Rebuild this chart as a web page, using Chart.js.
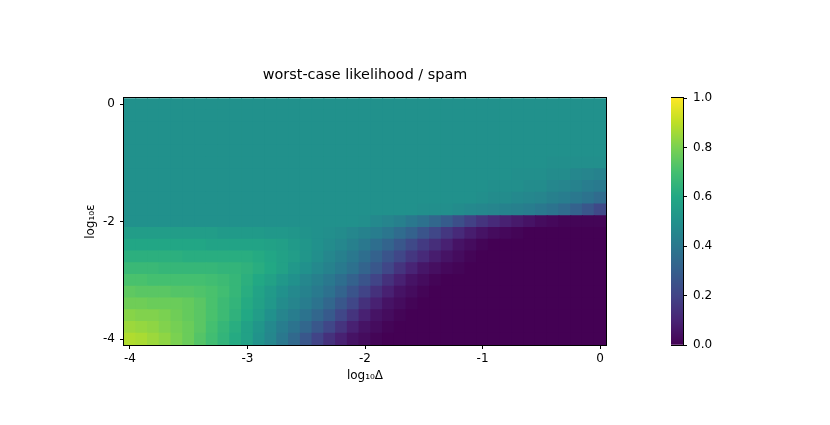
<!DOCTYPE html>
<html>
<head>
<meta charset="utf-8">
<script src="https://cdn.jsdelivr.net/npm/chart.js@4.4.1/dist/chart.umd.min.js"></script>
<style>
  html, body { margin: 0; padding: 0; background: #fff; }
  #wrap { position: relative; width: 830px; height: 425px; }
  #heat { position: absolute; left: 0; top: 0; }
  #cbar { position: absolute; left: 671px; top: 0; }
</style>
</head>
<body>
<div id="wrap">
  <canvas id="heat" width="830" height="425"></canvas>
  <canvas id="cbar" width="80" height="425"></canvas>
</div>
<script>
// log10 Delta (columns) and log10 eps (rows, top to bottom)
const logDelta = [-4.0,-3.9,-3.8,-3.7,-3.6,-3.5,-3.4,-3.3,-3.2,-3.1,-3.0,-2.9,-2.8,-2.7,-2.6,-2.5,-2.4,-2.3,-2.2,-2.1,
  -2.0,-1.9,-1.8,-1.7,-1.6,-1.5,-1.4,-1.3,-1.2,-1.1,-1.0,-0.9,-0.8,-0.7,-0.6,-0.5,-0.4,-0.3,-0.2,-0.1,0.0];
const logEps = [0.0,-0.2,-0.4,-0.6,-0.8,-1.0,-1.2,-1.4,-1.6,-1.8,-2.0,-2.2,-2.4,-2.6,-2.8,-3.0,-3.2,-3.4,-3.6,-3.8,-4.0];
const xTicks = [-4, -3, -2, -1, 0];
const yTicks = [-4, -2, 0];
const cbarTicks = [0, 0.2, 0.4, 0.6, 0.8, 1.0];

// worst-case likelihood, one row per logEps value
const likelihood = [
  [.5,.5,.5,.5,.5,.5,.5,.5,.5,.5, .5,.5,.5,.5,.5,.5,.5,.5,.5,.5, .5,.5,.5,.5,.5,.5,.5,.5,.5,.5, .5,.5,.5,.5,.5,.5,.5,.5,.5,.5, .5], // 0
  [.5,.5,.5,.5,.5,.5,.5,.5,.5,.5, .5,.5,.5,.5,.5,.5,.5,.5,.5,.5, .5,.5,.5,.5,.5,.5,.5,.5,.5,.5, .5,.5,.5,.5,.5,.5,.5,.5,.5,.5, .5], // -0.2
  [.5,.5,.5,.5,.5,.5,.5,.5,.5,.5, .5,.5,.5,.5,.5,.5,.5,.5,.5,.5, .5,.5,.5,.5,.5,.5,.5,.5,.5,.5, .5,.5,.5,.5,.5,.5,.5,.5,.5,.5, .5], // -0.4
  [.5,.5,.5,.5,.5,.5,.5,.5,.5,.5, .5,.5,.5,.5,.5,.5,.5,.5,.5,.5, .5,.5,.5,.5,.5,.5,.5,.5,.5,.5, .5,.5,.5,.5,.5,.5,.5,.5,.5,.5, .5], // -0.6
  [.5,.5,.5,.5,.5,.5,.5,.5,.5,.5, .5,.5,.5,.5,.5,.5,.5,.5,.5,.5, .5,.5,.5,.5,.5,.5,.5,.5,.5,.5, .5,.5,.5,.5,.5,.5,.5,.5,.5,.5, .5], // -0.8
  [.5,.5,.5,.5,.5,.5,.5,.5,.5,.5, .5,.5,.5,.5,.5,.5,.5,.5,.5,.5, .5,.5,.5,.5,.5,.5,.5,.5,.5,.5, .5,.5,.5,.5,.5,.5,.49,.49,.49,.49, .49], // -1.0
  [.5,.5,.5,.5,.5,.5,.5,.5,.5,.5, .5,.5,.5,.5,.5,.5,.5,.5,.5,.5, .5,.5,.5,.5,.5,.5,.5,.5,.5,.5, .5,.5,.5,.49,.49,.49,.48,.48,.46,.45, .44], // -1.2
  [.5,.5,.5,.5,.5,.5,.5,.5,.5,.5, .5,.5,.5,.5,.5,.5,.5,.5,.5,.5, .5,.5,.5,.5,.5,.5,.5,.5,.5,.5, .5,.49,.49,.49,.48,.48,.46,.45,.44,.42, .41], // -1.4
  [.5,.5,.5,.5,.5,.5,.5,.5,.5,.5, .5,.5,.5,.5,.5,.5,.5,.5,.5,.5, .5,.5,.5,.5,.5,.5,.5,.5,.5,.5, .49,.48,.48,.47,.46,.45,.43,.42,.40,.38, .35], // -1.6
  [.5,.5,.5,.5,.5,.5,.5,.5,.5,.5, .5,.5,.5,.5,.5,.5,.5,.5,.5,.5, .5,.5,.5,.5,.5,.49,.49,.49,.48,.47, .46,.45,.44,.43,.42,.40,.38,.35,.31,.27, .22], // -1.8
  [.5,.5,.5,.5,.5,.5,.5,.5,.5,.5, .5,.5,.5,.5,.5,.5,.5,.5,.5,.5, .49,.47,.45,.43,.40,.37,.33,.29,.24,.19, .15,.12,.09,.07,.05,.03,.02,.01,.01,.01, .01], // -2.0
  [.55,.55,.55,.55,.55,.55,.55,.55,.54,.54, .54,.54,.53,.53,.52,.51,.50,.49,.48,.46, .44,.42,.39,.35,.31,.26,.21,.16,.12,.08, .05,.03,.02,.01,0,0,0,0,0,0, 0], // -2.2
  [.59,.59,.59,.59,.59,.59,.59,.58,.58,.58, .58,.58,.57,.56,.54,.52,.50,.48,.46,.43, .40,.36,.32,.27,.22,.17,.13,.09,.05,.03, .01,0,0,0,0,0,0,0,0,0, 0], // -2.4
  [.63,.63,.63,.63,.63,.62,.62,.62,.62,.62, .62,.61,.59,.57,.55,.52,.49,.46,.43,.40, .36,.31,.26,.21,.16,.12,.08,.05,.03,.01, 0,0,0,0,0,0,0,0,0,0, 0], // -2.6
  [.67,.67,.67,.66,.66,.66,.66,.66,.65,.65, .64,.62,.60,.57,.53,.50,.47,.44,.41,.37, .32,.27,.21,.15,.10,.06,.04,.02,.01,0, 0,0,0,0,0,0,0,0,0,0, 0], // -2.8
  [.71,.71,.70,.70,.70,.70,.70,.69,.68,.66, .63,.60,.57,.53,.50,.46,.43,.40,.36,.31, .26,.20,.14,.09,.05,.03,.01,0,0,0, 0,0,0,0,0,0,0,0,0,0, 0], // -3.0
  [.75,.74,.74,.74,.73,.73,.72,.71,.69,.66, .62,.58,.54,.50,.47,.44,.41,.37,.32,.26, .20,.14,.09,.05,.03,.01,0,0,0,0, 0,0,0,0,0,0,0,0,0,0, 0], // -3.2
  [.78,.78,.77,.77,.77,.76,.74,.71,.68,.65, .61,.57,.53,.48,.45,.42,.38,.33,.27,.21, .14,.09,.05,.03,.01,0,0,0,0,0, 0,0,0,0,0,0,0,0,0,0, 0], // -3.4
  [.82,.81,.81,.80,.78,.76,.74,.71,.68,.64, .60,.55,.50,.45,.42,.38,.33,.28,.21,.15, .09,.05,.03,.01,0,0,0,0,0,0, 0,0,0,0,0,0,0,0,0,0, 0], // -3.6
  [.85,.84,.83,.81,.79,.77,.74,.70,.66,.62, .57,.52,.47,.42,.38,.33,.27,.21,.15,.09, .05,.03,.01,0,0,0,0,0,0,0, 0,0,0,0,0,0,0,0,0,0, 0], // -3.8
  [.88,.87,.85,.83,.80,.77,.73,.69,.65,.61, .57,.51,.46,.40,.34,.27,.20,.14,.09,.05, .03,.01,0,0,0,0,0,0,0,0, 0,0,0,0,0,0,0,0,0,0, 0]  // -4.0
];

// viridis colormap stops
const viridis = ['#440154','#482475','#414487','#355f8d','#2a788e','#21918c','#22a884','#44bf70','#7ad151','#bddf26','#fde725'];

function hexRgb(h) {
  return [parseInt(h.slice(1, 3), 16), parseInt(h.slice(3, 5), 16), parseInt(h.slice(5, 7), 16)];
}
function viridisColor(v) {
  const t = Math.max(0, Math.min(1, v)) * 10;
  const i = Math.min(9, Math.floor(t));
  const f = t - i;
  const a = hexRgb(viridis[i]), b = hexRgb(viridis[i + 1]);
  const c = a.map((x, k) => Math.round(x + (b[k] - x) * f));
  return 'rgb(' + c.join(',') + ')';
}

const cells = [];
const cellColors = [];
logEps.forEach((y, r) => {
  logDelta.forEach((x, c) => {
    cells.push({ x: x, y: [y - 0.1, y + 0.1] });
    cellColors.push(viridisColor(likelihood[r][c]));
  });
});

Chart.defaults.font.family = '"DejaVu Sans", sans-serif';
Chart.defaults.font.size = 12;
Chart.defaults.color = '#000';

// black box around the plot area
const frame = {
  id: 'frame',
  afterDatasetsDraw(chart) {
    const { ctx, chartArea: a } = chart;
    ctx.save();
    ctx.strokeStyle = '#000';
    ctx.lineWidth = 1;
    ctx.strokeRect(Math.round(a.left) - 0.5, Math.round(a.top) - 0.5,
      Math.round(a.right - a.left) + 1, Math.round(a.bottom - a.top) + 1);
    ctx.restore();
  }
};

new Chart(document.getElementById('heat'), {
  type: 'bar',
  data: {
    datasets: [{
      data: cells,
      backgroundColor: cellColors,
      borderWidth: 0,
      barPercentage: 1,
      categoryPercentage: 1,
      inflateAmount: 0.5
    }]
  },
  options: {
    responsive: false,
    animation: false,
    events: [],
    layout: { padding: { left: 80, right: 224, top: 67, bottom: 38 } },
    plugins: {
      legend: { display: false },
      tooltip: { enabled: false },
      title: {
        display: true,
        fullSize: false,
        text: 'worst-case likelihood / spam',
        color: '#000',
        font: { size: 14.4, weight: 'normal' },
        padding: { top: 0, bottom: 14 }
      }
    },
    scales: {
      x: {
        type: 'linear', min: -4.05, max: 0.05, offset: false,
        afterBuildTicks: s => { s.ticks = xTicks.map(v => ({ value: v })); },
        afterFit: s => { s.height = 42; },
        ticks: { padding: 3, callback: v => String(v) },
        grid: { drawOnChartArea: false, tickLength: 4, tickColor: '#000', offset: false },
        border: { display: false },
        title: { display: true, text: 'log₁₀Δ', padding: { top: 0, bottom: 4 } }
      },
      y: {
        type: 'linear', min: -4.1, max: 0.1, stacked: false,
        afterBuildTicks: s => { s.ticks = yTicks.map(v => ({ value: v })); },
        afterFit: s => { s.width = 44; },
        ticks: { padding: 5, callback: v => String(v) },
        grid: { drawOnChartArea: false, tickLength: 4, tickColor: '#000' },
        border: { display: false },
        title: { display: true, text: 'log₁₀ε', padding: { top: 4, bottom: 0 } }
      }
    }
  },
  plugins: [frame]
});

new Chart(document.getElementById('cbar'), {
  type: 'bar',
  data: {
    labels: [''],
    datasets: [{
      data: [[cbarTicks[0], cbarTicks[cbarTicks.length - 1]]],
      backgroundColor: ctx => {
        const a = ctx.chart.chartArea;
        if (!a) return viridis[5];
        const g = ctx.chart.ctx.createLinearGradient(0, a.bottom, 0, a.top);
        viridis.forEach((c, i) => g.addColorStop(i / (viridis.length - 1), c));
        return g;
      },
      borderWidth: 0,
      barPercentage: 1,
      categoryPercentage: 1
    }]
  },
  options: {
    responsive: false,
    animation: false,
    events: [],
    layout: { padding: { left: 0, right: 0, top: 98, bottom: 80 } },
    plugins: { legend: { display: false }, tooltip: { enabled: false } },
    scales: {
      x: { display: false },
      y: {
        position: 'right', min: 0, max: 1, stacked: false,
        afterBuildTicks: s => { s.ticks = cbarTicks.map(v => ({ value: v })); },
        afterFit: s => { s.width = 68; },
        ticks: { padding: 6, callback: v => v.toFixed(1) },
        grid: { drawOnChartArea: false, tickLength: 4, tickColor: '#000' },
        border: { display: false }
      }
    }
  },
  plugins: [frame]
});
</script>
</body>
</html>
